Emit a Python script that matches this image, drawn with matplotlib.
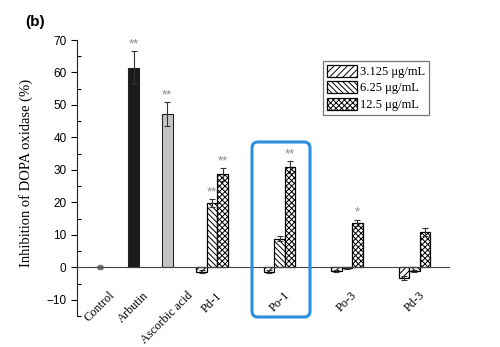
import matplotlib
matplotlib.use("Agg")
import matplotlib.pyplot as plt
from matplotlib.patches import FancyBboxPatch
from matplotlib.ticker import MultipleLocator

# categories and positions on the x axis (groups are spaced wider)
categories = ["Control", "Arbutin", "Ascorbic acid", "Pd-1", "Po-1", "Po-3", "Pd-3"]
cat_pos = [0, 1, 2, 3.33, 5.33, 7.33, 9.33]

# single bars: control / reference compounds
ref_values = [0.0, 61.5, 47.3]
ref_errors = [0.3, 5.0, 3.7]
ref_stars = ["", "**", "**"]

# grouped bars for the four extracts
conc_labels = ["3.125 μg/mL", "6.25 μg/mL", "12.5 μg/mL"]
low_vals = [-1.3, -1.3, -1.0, -3.3]
low_errs = [0.4, 0.5, 0.3, 0.5]
mid_vals = [19.9, 8.8, -0.3, -1.0]
mid_errs = [1.2, 0.8, 0.1, 0.3]
high_vals = [28.7, 30.9, 13.7, 10.8]
high_errs = [2.0, 1.8, 1.0, 1.3]
mid_stars = ["**", "", "", ""]
high_stars = ["**", "**", "*", ""]

plt.rcParams['hatch.linewidth'] = 0.7

fig = plt.figure(figsize=(5, 3.47), dpi=100)
ax = fig.add_axes([0.154, 0.0893, 0.744, 0.7954])

w_ref = 0.33
w = 0.31
err_kw = dict(fmt='none', ecolor='#333333', elinewidth=0.8, capsize=2.5, capthick=0.8)
star_kw = dict(ha='center', va='bottom', color='#8a8a8a', fontsize=9.5, family='Liberation Sans')

# reference bars
ref_colors = ['#1a1a1a', '#1a1a1a', '#c4c4c4']
ax.bar(cat_pos[:3], ref_values, w_ref, color=ref_colors, edgecolor='#222222', linewidth=0.8)
ax.errorbar(cat_pos[0], ref_values[0], yerr=ref_errors[0], fmt='s', ms=2.5, color='#777777',
            ecolor='#777777', elinewidth=0.8, capsize=2, capthick=0.8)
ax.errorbar(cat_pos[1:3], ref_values[1:3], yerr=ref_errors[1:3], **err_kw)
for x, v, e, s in zip(cat_pos[:3], ref_values, ref_errors, ref_stars):
    if s:
        ax.text(x, v + e + 0.2, s, **star_kw)

# grouped bars
grp = cat_pos[3:]
hatches = ['/////', '\\\\\\\\\\\\', 'xxxxxx']
series = [(low_vals, low_errs), (mid_vals, mid_errs), (high_vals, high_errs)]
handles = []
for i, ((vals, errs), h, lab) in enumerate(zip(series, hatches, conc_labels)):
    xs = [g + (i - 1) * w for g in grp]
    b = ax.bar(xs, vals, w, color='white', edgecolor='black', hatch=h, linewidth=0.9, label=lab)
    handles.append(b)
    ax.errorbar(xs, vals, yerr=errs, **err_kw)
    stars = [mid_stars, high_stars][i - 1] if i > 0 else ["", "", "", ""]
    for x, v, e, s in zip(xs, vals, errs, stars):
        if s:
            ax.text(x, v + e + 0.2, s, **star_kw)

# axes styling
ax.set_xlim(-0.68, 10.36)
ax.set_ylim(-15, 70)
ax.spines['top'].set_visible(False)
ax.spines['right'].set_visible(False)
ax.spines['bottom'].set_position(('data', 0))
ax.spines['bottom'].set_color('#444444')
ax.spines['left'].set_color('#222222')
ax.yaxis.set_major_locator(MultipleLocator(10))
ax.yaxis.set_minor_locator(MultipleLocator(5))
ax.tick_params(axis='y', which='major', direction='out', length=4, width=0.8, labelsize=8.5)
ax.tick_params(axis='y', which='minor', direction='in', length=3, width=0.8)
for t in ax.get_yticklabels():
    t.set_family('Liberation Sans')
ax.set_xticks(cat_pos)
ax.set_xticklabels(categories, rotation=45, ha='center', va='top', family='Liberation Serif', fontsize=8.8)
ax.tick_params(axis='x', length=0, pad=16)

ax.set_ylabel("Inhibition of DOPA oxidase (%)", family='Liberation Serif', fontsize=10.5)
ax.yaxis.set_label_coords(-0.118, 0.52)

leg = ax.legend(handles=handles, loc='upper left', bbox_to_anchor=(0.646, 0.824),
                bbox_transform=fig.transFigure, prop={'family': 'Liberation Serif', 'size': 9},
                frameon=True, fancybox=False, borderaxespad=0, handlelength=2.4, handleheight=1.1,
                labelspacing=0.25, handletextpad=0.3, borderpad=0.3)
leg.get_frame().set_edgecolor('#555555')
leg.get_frame().set_linewidth(0.9)

# highlight box around Po-1
box = FancyBboxPatch((252 / 500, 1 - 317 / 347), 58 / 500, 175 / 347,
                     boxstyle="round,pad=0,rounding_size=0.012", mutation_aspect=500 / 347,
                     transform=fig.transFigure, fill=False, edgecolor='#2a8fe0', linewidth=2.2)
fig.patches.append(box)

fig.text(0.05, 0.937, "(b)", fontsize=11, fontweight='bold', family='Liberation Sans', va='center')

fig.savefig("out.png", dpi=100)
